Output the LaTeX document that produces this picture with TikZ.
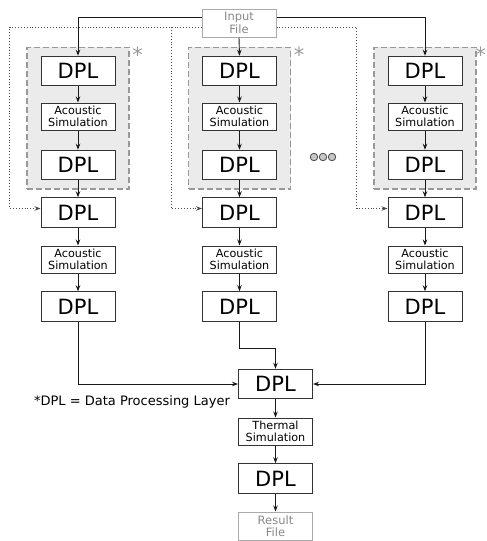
\documentclass[tikz,border=0pt]{standalone}
\usepackage{fontspec}
\setmainfont{DejaVu Sans}
\usetikzlibrary{arrows.meta,fit,backgrounds}
\definecolor{boxline}{HTML}{333333}
\definecolor{grpfill}{HTML}{EBEBEB}
\definecolor{grpline}{HTML}{999999}
\definecolor{fileline}{HTML}{AAAAAA}
\definecolor{filetext}{HTML}{888888}
\tikzset{
  dplbox/.style={draw=boxline, line width=1pt, fill=white, minimum width=74pt, minimum height=29.5pt, inner sep=0pt, font=\fontsize{21}{21}\selectfont},
  simbox/.style={draw=boxline, line width=1pt, fill=white, minimum width=74pt, minimum height=27pt, inner sep=0pt, align=center, font=\fontsize{11.2}{12.5}\selectfont},
  filebox/.style={draw=fileline, line width=1pt, fill=white, text=filetext, minimum width=74pt, minimum height=28pt, inner sep=0pt, align=center, font=\fontsize{11.5}{12.5}\selectfont},
  grpbox/.style={draw=grpline, fill=grpfill, dashed, dash pattern=on 6pt off 3pt, line width=1.5pt, inner xsep=13.5pt, inner ysep=8.5pt},
  arr/.style={draw=black!90, line width=0.9pt, -{Stealth[length=6pt,width=4.5pt]}},
  dotarr/.style={draw=black!70, line width=0.9pt, dotted, -{Stealth[length=6pt,width=4.5pt]}},
  astr/.style={text=grpline, inner sep=0pt, anchor=north, font=\fontsize{21}{21}\selectfont},
  dotc/.style={circle, draw=black!70, fill=black!22, line width=0.8pt, minimum size=7.5pt, inner sep=0pt},
}
\begin{document}
\begin{tikzpicture}[x=1pt,y=-1pt]
\path[use as bounding box] (0,0) rectangle (487,541);
\node[filebox] (in) at (239,23) {Input\\File};
% left column
\node[dplbox] (L1) at (78,71) {DPL};
\node[simbox] (LA1) at (78,116.5) {Acoustic\\Simulation};
\node[dplbox] (L2) at (78,165) {DPL};
\node[dplbox] (L3) at (78,212.5) {DPL};
\node[simbox] (LA2) at (78,259.5) {Acoustic\\Simulation};
\node[dplbox] (L4) at (78,306.5) {DPL};
% middle column
\node[dplbox] (M1) at (239.5,71) {DPL};
\node[simbox] (MA1) at (239.5,116.5) {Acoustic\\Simulation};
\node[dplbox] (M2) at (239.5,165) {DPL};
\node[dplbox] (M3) at (239.5,212.5) {DPL};
\node[simbox] (MA2) at (239.5,259.5) {Acoustic\\Simulation};
\node[dplbox] (M4) at (239.5,306.5) {DPL};
% right column
\node[dplbox] (R1) at (425,71) {DPL};
\node[simbox] (RA1) at (425,116.5) {Acoustic\\Simulation};
\node[dplbox] (R2) at (425,165) {DPL};
\node[dplbox] (R3) at (425,212.5) {DPL};
\node[simbox] (RA2) at (425,259.5) {Acoustic\\Simulation};
\node[dplbox] (R4) at (425,306.5) {DPL};
% central
\node[dplbox] (C1) at (275.5,384) {DPL};
\node[simbox] (CT) at (275.5,431.5) {Thermal\\Simulation};
\node[dplbox] (C2) at (275.5,478.5) {DPL};
\node[filebox] (res) at (275.5,526) {Result\\File};
% groups
\begin{scope}[on background layer]
\node[grpbox, fit=(L1)(L2)] (GL) {};
\node[grpbox, fit=(M1)(M2)] (GM) {};
\node[grpbox, fit=(R1)(R2)] (GR) {};
\end{scope}
\node[astr] (sL) at (137.5,46.5) {*};
\node[astr] (sM) at (299,46.5) {*};
\node[astr] (sR) at (480.5,46.5) {*};
% dots
\node[dotc] (d1) at (314,157) {};
\node[dotc] (d2) at (323,157) {};
\node[dotc] (d3) at (332,157) {};
% footnote
\node[font=\fontsize{13}{13}\selectfont, inner sep=0pt] (note) at (132,402) {*DPL = Data Processing Layer};
% solid connectors from input
\draw[arr] ([yshift=5.5pt]in.west) -| (L1.north);
\draw[arr] (in.south) -- (M1.north);
\draw[arr] ([yshift=5.5pt]in.east) -| (R1.north);
% dotted connectors
\coordinate (inW) at ([yshift=-4pt]in.west);
\coordinate (inE) at ([yshift=-4pt]in.east);
\coordinate (l3in) at ([yshift=4pt]L3.west);
\coordinate (m3in) at ([yshift=4pt]M3.west);
\coordinate (r3in) at ([yshift=4pt]R3.west);
\coordinate (lturn) at ([xshift=-31pt]l3in);
\coordinate (mturn) at ([xshift=-31pt]m3in);
\coordinate (rturn) at ([xshift=-31pt]r3in);
\draw[dotarr] (inW) -| (lturn) -- (l3in);
\draw[dotarr] (mturn |- inW) -- (mturn) -- (m3in);
\draw[dotarr] (inE) -| (rturn) -- (r3in);
% column arrows
\foreach \c in {L,M,R}{
  \draw[arr] (\c1) -- (\c A1);
  \draw[arr] (\c A1) -- (\c2);
  \draw[arr] (\c2) -- (\c3);
  \draw[arr] (\c3) -- (\c A2);
  \draw[arr] (\c A2) -- (\c4);
}
% merge
\draw[arr] (L4.south) |- (C1.west);
\draw[arr] (R4.south) |- (C1.east);
\draw[arr] (M4.south) -- ++(0,27) -| (C1.north);
\draw[arr] (C1) -- (CT);
\draw[arr] (CT) -- (C2);
\draw[arr] (C2) -- (res);
\end{tikzpicture}
\end{document}
